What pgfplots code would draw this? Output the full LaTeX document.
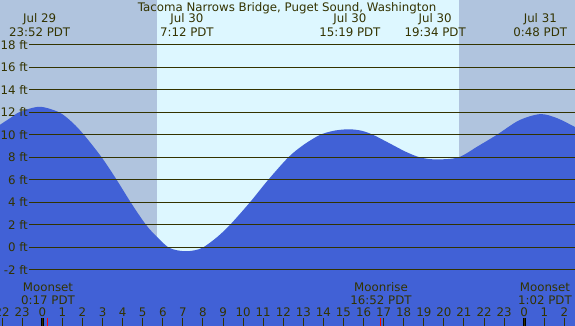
\documentclass[border=0pt]{standalone}
\usepackage{pgfplots}
\pgfplotsset{compat=1.18}
\usepgfplotslibrary{fillbetween}
\usepackage{fontspec}
\setmainfont{DejaVu Sans}
\definecolor{night}{HTML}{B0C4DE}
\definecolor{day}{HTML}{DDF7FF}
\definecolor{tide}{HTML}{4161D6}
\definecolor{ink}{HTML}{333300}
\tikzset{lbl/.style={font=\fontsize{11.8}{13}\selectfont, text=ink, inner sep=0pt}}
\begin{document}
\begin{tikzpicture}
\begin{axis}[
  scale only axis, width=575pt, height=326pt,
  xmin=-2.107, xmax=26.53, ymin=-7.0, ymax=22.0,
  axis line style={draw=none},
  axis on top,
  clip=false,
  fill between/on layer=main,
  ytick=\empty,
  xtick={-2,-1,...,26},
  xticklabels={22,23,0,1,2,3,4,5,6,7,8,9,10,11,12,13,14,15,16,17,18,19,20,21,22,23,0,1,2},
  xtick pos=left,
  tick align=inside,
  major tick length=8pt,
  every tick/.style={ink, line width=1pt},
  xticklabel style={anchor=base, yshift=9pt, inner sep=0pt, font=\fontsize{11.8}{13}\selectfont, text=ink},
]
% day / night background
\fill[night] (axis cs:-2.107,-7) rectangle (axis cs:5.712,22);
\fill[day] (axis cs:5.712,-7) rectangle (axis cs:20.75,22);
\fill[night] (axis cs:20.75,-7) rectangle (axis cs:26.53,22);

% tide curve (hours after Jul 30 0:00, feet)
\addplot[name path=tideline, draw=none, smooth] coordinates {
(-2.25,10.7) (-2.107,10.9) (-1.61,11.48) (-1.11,12.05) (-0.13,12.5) (0.847,12.0)
(1.5,11.1) (2.077,10.0) (2.958,8.0) (3.705,6.0) (4.402,4.0) (5.164,2.0)
(5.75,0.85) (6.275,0.0) (6.7,-0.26) (7.15,-0.35) (7.6,-0.26) (8.02,0.0)
(8.7,0.9) (9.35,2.0) (10.34,4.0) (11.25,6.0) (12.25,8.0) (13.0,9.1)
(13.83,10.0) (14.55,10.38) (15.27,10.5) (15.9,10.37) (16.48,10.0) (17.4,9.15)
(18.1,8.5) (18.81,8.0) (19.6,7.82) (20.72,8.0) (21.7,9.0) (22.63,10.0)
(23.75,11.3) (24.8,11.85) (25.62,11.5) (26.53,10.7) (26.65,10.55)
};
\addplot[name path=floor, draw=none] coordinates {(-2.25,-7) (26.65,-7)};
\addplot[fill=tide, draw=none] fill between[of=tideline and floor];

% grid lines and labels
\pgfplotsinvokeforeach{-2,0,2,4,6,8,10,12,14,16,18}{
  \draw[ink, line width=1pt] (axis cs:-0.662,#1) -- (axis cs:26.53,#1);
  \node[lbl, anchor=east] at (axis cs:-0.71,#1) {#1 ft};
}

% title
\node[lbl] at (axis cs:12.19,21.3) {Tacoma Narrows Bridge, Puget Sound, Washington};

% tide events
\node[lbl] at (axis cs:-0.133,20.32) {Jul 29};
\node[lbl] at (axis cs:-0.133,19.16) {23:52 PDT};
\node[lbl] at (axis cs:7.2,20.32) {Jul 30};
\node[lbl] at (axis cs:7.2,19.16) {7:12 PDT};
\node[lbl] at (axis cs:15.317,20.32) {Jul 30};
\node[lbl] at (axis cs:15.317,19.16) {15:19 PDT};
\node[lbl] at (axis cs:19.567,20.32) {Jul 30};
\node[lbl] at (axis cs:19.567,19.16) {19:34 PDT};
\node[lbl] at (axis cs:24.8,20.32) {Jul 31};
\node[lbl] at (axis cs:24.8,19.16) {0:48 PDT};

% moon events
\node[lbl] at (axis cs:0.283,-3.54) {Moonset};
\node[lbl] at (axis cs:0.283,-4.68) {0:17 PDT};
\node[lbl] at (axis cs:16.867,-3.54) {Moonrise};
\node[lbl] at (axis cs:16.867,-4.68) {16:52 PDT};
\node[lbl] at (axis cs:25.033,-3.54) {Moonset};
\node[lbl] at (axis cs:25.033,-4.68) {1:02 PDT};

% midnight and moon ticks
\draw[black, line width=3pt] (axis cs:0,-7) -- (axis cs:0,-6.29);
\draw[black, line width=3pt] (axis cs:24,-7) -- (axis cs:24,-6.29);
\draw[red, line width=1pt] (axis cs:0.283,-7) -- (axis cs:0.283,-6.29);
\draw[red, line width=1pt] (axis cs:16.867,-7) -- (axis cs:16.867,-6.29);
\draw[red, line width=1pt] (axis cs:25.033,-7) -- (axis cs:25.033,-6.29);
\end{axis}
\pgfresetboundingbox
\useasboundingbox (current axis.south west) rectangle (current axis.north east);
\end{tikzpicture}
\end{document}
